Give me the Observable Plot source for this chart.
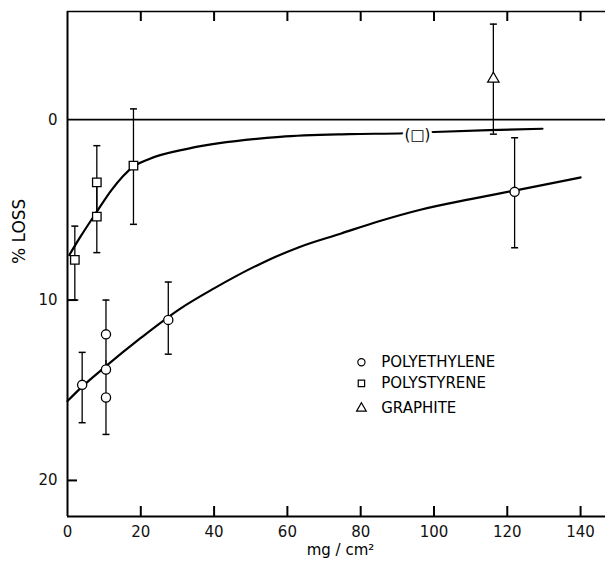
<!DOCTYPE html>
<html><head><meta charset="utf-8">
<script src="https://cdn.jsdelivr.net/npm/d3@7"></script>
<script src="https://cdn.jsdelivr.net/npm/@observablehq/plot@0.6"></script>
<style>
body{margin:0;background:#fff}
#chart svg{display:block}
g[aria-label="y-title"] text{letter-spacing:1.5px}
g[aria-label="x-title"] text{letter-spacing:0.5px}
</style>
</head><body><div id="chart"></div>
<script>
// ---- data ----
const xTicks = [0, 20, 40, 60, 80, 100, 120, 140];
const yTicks = [0, 10, 20];

// polyethylene points (% loss) and error bars
const peX  = [4, 10.5, 10.5, 10.5, 27.5, 122];
const peY  = [14.7, 11.9, 13.85, 15.4, 11.1, 4.0];
const peLo = [12.9, 10.0, null, 13.35, 9.0, 1.0];
const peHi = [16.8, 13.8, null, 17.45, 13.0, 7.1];
const peCapTop = [true, true, false, false, true, true];
const peCapBot = [true, false, false, true, true, true];

// polystyrene points and error bars
const psX  = [2, 8, 8, 18];
const psY  = [7.77, 3.47, 5.37, 2.55];
const psLo = [5.9, 1.44, 3.37, -0.6];
const psHi = [10.0, 5.5, 7.37, 5.8];
const psCapTop = [true, true, false, true];
const psCapBot = [true, false, true, true];

// polystyrene note point "(□)" on the curve
const psNoteX = [95.5];
const psNoteY = [0.85];

// graphite
const grX  = [116.2];
const grY  = [-2.27];
const grLo = [-5.3];
const grHi = [0.8];

// fitted curves
const peCurveX = [0, 4, 10, 20, 30.8, 40, 52.7, 63, 74.5, 85, 96.3, 110, 122, 140];
const peCurveY = [15.6, 14.8, 13.75, 12.1, 10.47, 9.35, 7.98, 7.08, 6.32, 5.63, 4.99, 4.4, 3.93, 3.2];
const psCurveX = [0.5, 3.5, 8, 12, 18, 22, 33, 58, 77, 92, 100, 115, 129.6];
const psCurveY = [7.5, 6.5, 5.1, 3.9, 2.6, 2.2, 1.6, 0.95, 0.8, 0.75, 0.68, 0.58, 0.5];

const legendNames = ["POLYETHYLENE", "POLYSTYRENE", "GRAPHITE"];
const legendSymbols = ["circle", "square", "triangle"];

// ---- build tables ----
const pe = peX.map((x, i) => ({x, y: peY[i], lo: peLo[i], hi: peHi[i], ct: peCapTop[i], cb: peCapBot[i]}));
const ps = psX.map((x, i) => ({x, y: psY[i], lo: psLo[i], hi: psHi[i], ct: psCapTop[i], cb: psCapBot[i]}));
const gr = grX.map((x, i) => ({x, y: grY[i], lo: grLo[i], hi: grHi[i], ct: true, cb: true}));
const allPts = [...pe, ...ps, ...gr];
const bars = allPts.filter(d => d.lo != null);
const caps = [
  ...bars.filter(d => d.ct).map(d => ({x: d.x, y: d.lo})),
  ...bars.filter(d => d.cb).map(d => ({x: d.x, y: d.hi}))
];
const peCurve = peCurveX.map((x, i) => ({x, y: peCurveY[i]}));
const psCurve = psCurveX.map((x, i) => ({x, y: psCurveY[i]}));
const note = psNoteX.map((x, i) => ({x, y: psNoteY[i], t: "(\u25A1)"}));

// ---- layout ----
const W = 605, H = 562;
const mT = 11, mB = 46, mL = 67, mR = 0;
const xDom = [0, 146.8], yDom = [-6, 22];
const innerW = W - mL - mR, innerH = H - mT - mB;
const pxPerX = innerW / (xDom[1] - xDom[0]);
const pxPerY = innerH / (yDom[1] - yDom[0]);
const tickLen = 10;
const ink = "#000";
const FONT = "DejaVu Sans, sans-serif";

const capSymbol = {draw(ctx, size) { const w = Math.sqrt(size / Math.PI); ctx.moveTo(-w, 0); ctx.lineTo(w, 0); }};

// legend placement
const legX = 80.2, legTextX = 85.6;
const legY = [13.45, 14.62, 16.0];
const legend = legendNames.map((n, i) => ({n, y: legY[i]}));

const innerTicksX = xTicks.filter(d => d > 0);
const innerTicksY = yTicks.filter(d => d > 0);

const chart = Plot.plot({
  width: W, height: H,
  marginTop: mT, marginBottom: mB, marginLeft: mL, marginRight: mR,
  style: {fontFamily: FONT, fontSize: "15px", color: "#111", background: "white"},
  x: {domain: xDom},
  y: {domain: yDom, reverse: true},
  marks: [
    // inward ticks
    Plot.ruleX(innerTicksX, {x: d => d, y1: yDom[1], y2: yDom[1] - tickLen / pxPerY, stroke: ink, strokeWidth: 2}),
    Plot.ruleX(innerTicksX, {x: d => d, y1: yDom[0], y2: yDom[0] + tickLen / pxPerY, stroke: ink, strokeWidth: 2}),
    Plot.ruleY(innerTicksY, {y: d => d, x1: xDom[0], x2: xDom[0] + tickLen / pxPerX, stroke: ink, strokeWidth: 2}),
    // frame lines
    Plot.ruleX([xDom[0]], {stroke: ink, strokeWidth: 2}),
    Plot.ruleY([yDom[0]], {stroke: ink, strokeWidth: 1.6}),
    Plot.ruleY([yDom[1]], {stroke: ink, strokeWidth: 2}),
    Plot.ruleY([0], {stroke: ink, strokeWidth: 1.8}),
    // tick labels
    Plot.axisX({anchor: "bottom", ticks: xTicks, tickSize: 0, tickPadding: 10, label: null, fontSize: 15, tickFormat: d => String(d)}),
    Plot.axisY({anchor: "left", ticks: yTicks, tickSize: 0, tickPadding: 10, label: null, fontSize: 15, tickFormat: d => String(d)}),
    // axis titles
    Plot.text(["% LOSS"], {frameAnchor: "left", dx: -48, rotate: -90, fontSize: 17, fill: ink, ariaLabel: "y-title"}),
    Plot.text(["mg / cm\u00B2"], {frameAnchor: "bottom", dx: 4, dy: 38, fontSize: 15, fill: ink, ariaLabel: "x-title"}),
    // curves
    Plot.line(peCurve, {x: "x", y: "y", curve: "monotone-x", stroke: ink, strokeWidth: 2.2}),
    Plot.line(psCurve, {x: "x", y: "y", curve: "monotone-x", stroke: ink, strokeWidth: 2.2}),
    Plot.text(note, {x: "x", y: "y", text: "t", fontSize: 15, fill: ink, stroke: "white", strokeWidth: 6, paintOrder: "stroke"}),
    // error bars
    Plot.ruleX(bars, {x: "x", y1: "lo", y2: "hi", stroke: ink, strokeWidth: 1.3}),
    Plot.dot(caps, {x: "x", y: "y", symbol: capSymbol, r: 3.5, stroke: ink, strokeWidth: 1.5, fill: "none"}),
    // points
    Plot.dot(pe, {x: "x", y: "y", symbol: "circle", r: 4.6, stroke: ink, fill: "white", strokeWidth: 1.3}),
    Plot.dot(ps, {x: "x", y: "y", symbol: "square", r: 4.8, stroke: ink, fill: "white", strokeWidth: 1.3}),
    Plot.dot(gr, {x: "x", y: "y", symbol: "triangle", r: 4.2, stroke: ink, fill: "white", strokeWidth: 1.3}),
    // legend (one mark per symbol)
    ...legendSymbols.map((s, i) => Plot.dot([legend[i]], {x: () => legX, y: "y", symbol: s, r: 3.6, stroke: ink, fill: "white", strokeWidth: 1.2})),
    Plot.text(legend, {x: () => legTextX, y: "y", text: "n", textAnchor: "start", fontSize: 15, fill: ink})
  ]
});
document.getElementById("chart").appendChild(chart);
</script>
</body></html>
